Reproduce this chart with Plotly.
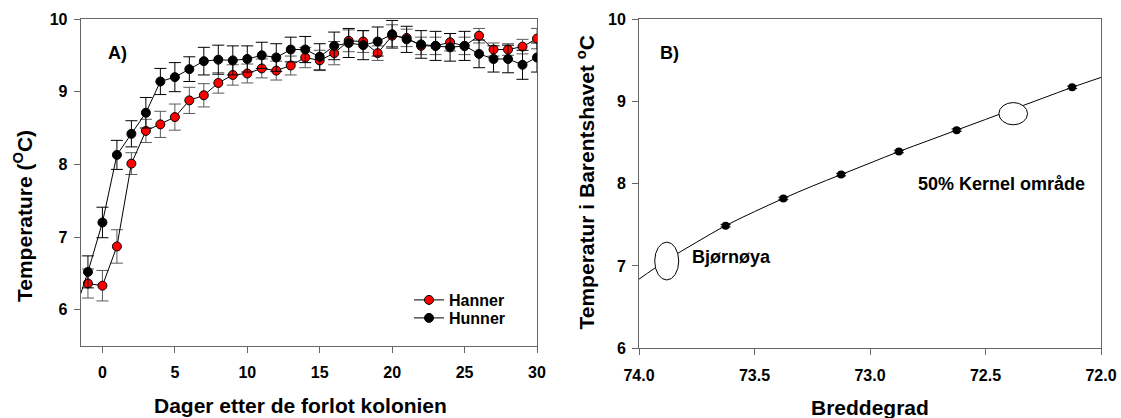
import plotly.graph_objects as go

# ---------------- Panel A data ----------------
days_hanner = list(range(-1, 31))
temp_hanner = [6.36, 6.33, 6.87, 8.01, 8.46, 8.55, 8.65, 8.88, 8.95, 9.12, 9.23, 9.25,
               9.32, 9.29, 9.36, 9.47, 9.43, 9.53, 9.70, 9.69, 9.53, 9.77, 9.74, 9.63,
               9.63, 9.68, 9.63, 9.77, 9.58, 9.58, 9.62, 9.73]
err_hanner = [0.20, 0.21, 0.23, 0.15, 0.16, 0.18, 0.18, 0.18, 0.16, 0.14, 0.14, 0.13,
              0.13, 0.13, 0.13, 0.14, 0.14, 0.16, 0.15, 0.15, 0.10, 0.15, 0.12, 0.12,
              0.12, 0.12, 0.12, 0.10, 0.09, 0.08, 0.10, 0.14]

days_hunner = list(range(-2, 31))
temp_hunner = [5.92, 6.52, 7.20, 8.13, 8.42, 8.71, 9.14, 9.20, 9.31, 9.42, 9.44, 9.43,
               9.45, 9.50, 9.47, 9.58, 9.58, 9.48, 9.63, 9.67, 9.64, 9.69, 9.79, 9.72,
               9.65, 9.63, 9.61, 9.63, 9.52, 9.45, 9.45, 9.37, 9.47]
err_hunner = [0.20, 0.22, 0.21, 0.20, 0.18, 0.21, 0.18, 0.20, 0.17, 0.19, 0.20, 0.20,
              0.18, 0.18, 0.19, 0.17, 0.18, 0.18, 0.19, 0.20, 0.20, 0.20, 0.19, 0.18,
              0.19, 0.20, 0.19, 0.20, 0.19, 0.18, 0.19, 0.20, 0.20]

# ---------------- Panel B data ----------------
lat_points = [73.625, 73.375, 73.125, 72.875, 72.625, 72.125]
temp_points = [7.49, 7.82, 8.11, 8.39, 8.65, 9.17]
err_points = [0.015, 0.015, 0.015, 0.015, 0.015, 0.015]

lat_curve = [74.0, 73.88, 73.75, 73.625, 73.5, 73.375, 73.25, 73.125, 73.0, 72.875,
             72.75, 72.625, 72.5, 72.375, 72.25, 72.125, 72.0]
temp_curve = [6.84, 7.07, 7.29, 7.49, 7.66, 7.82, 7.97, 8.11, 8.25, 8.39,
              8.52, 8.65, 8.78, 8.91, 9.04, 9.17, 9.29]

# regions (center lat, center temp, half-width lat, half-height temp)
bjornoya_region = (73.88, 7.06, 0.052, 0.23)
kernel_region = (72.38, 8.85, 0.062, 0.135)

FONT = "Liberation Sans, Arial, sans-serif"
W, H = 1121, 418

fig = go.Figure()

fig.add_trace(go.Scatter(
    x=days_hanner, y=temp_hanner, name="Hanner", mode="lines+markers",
    line=dict(color="black", width=1),
    marker=dict(color="#ff0000", size=9, line=dict(color="black", width=1)),
    error_y=dict(type="data", array=err_hanner, color="#5a5a5a", thickness=1, width=6),
    xaxis="x", yaxis="y", cliponaxis=True, legend="legend"))
fig.add_trace(go.Scatter(
    x=days_hunner, y=temp_hunner, name="Hunner", mode="lines+markers",
    line=dict(color="black", width=1),
    marker=dict(color="black", size=9, line=dict(color="black", width=1)),
    error_y=dict(type="data", array=err_hunner, color="black", thickness=1, width=6),
    xaxis="x", yaxis="y", cliponaxis=True, legend="legend2"))

fig.add_trace(go.Scatter(
    x=lat_curve, y=temp_curve, mode="lines", line=dict(color="black", width=1, shape="spline"),
    showlegend=False, xaxis="x2", yaxis="y2", hoverinfo="skip"))
fig.add_trace(go.Scatter(
    x=lat_points, y=temp_points, mode="markers",
    marker=dict(color="black", size=8),
    error_y=dict(type="data", array=err_points, color="black", thickness=1, width=5),
    showlegend=False, xaxis="x2", yaxis="y2"))

for (cx, cy, hw, hh) in (bjornoya_region, kernel_region):
    fig.add_shape(type="circle", xref="x2", yref="y2",
                  x0=cx - hw, x1=cx + hw, y0=cy - hh, y1=cy + hh,
                  line=dict(color="black", width=1), fillcolor="white", layer="above")

axis_common = dict(showgrid=False, zeroline=False, showline=True, mirror=True,
                   linecolor="#666666", linewidth=1, ticks="outside", ticklen=6,
                   tickcolor="#666666", tickwidth=1, automargin=False,
                   tickfont=dict(family=FONT, size=16, color="black", weight="bold"))

legend_common = dict(xanchor="left", yanchor="middle", bgcolor="rgba(0,0,0,0)", borderwidth=0,
                     font=dict(family=FONT, size=16, color="black", weight="bold"))

fig.update_layout(
    template="none",
    width=W, height=H, margin=dict(l=0, r=0, t=0, b=0, autoexpand=False),
    paper_bgcolor="white", plot_bgcolor="white",
    showlegend=True,
    legend=dict(x=409 / W, y=1 - 300 / H, **legend_common),
    legend2=dict(x=409 / W, y=1 - 318 / H, **legend_common),
    xaxis=dict(domain=[80.7 / W, 537 / W], range=[-1.5, 30], tickvals=[0, 5, 10, 15, 20, 25, 30],
               anchor="y", ticklabelstandoff=6, **axis_common),
    yaxis=dict(domain=[1 - 346 / H, 1 - 19 / H], range=[5.5, 10], tickvals=[6, 7, 8, 9, 10],
               anchor="x", ticklabelstandoff=3, **axis_common),
    xaxis2=dict(domain=[639 / W, 1101 / W], range=[74, 72], tickvals=[74, 73.5, 73, 72.5, 72],
                tickformat=".1f", anchor="y2", ticklabelstandoff=6, **axis_common),
    yaxis2=dict(domain=[1 - 348.3 / H, 1 - 19 / H], range=[6, 10], tickvals=[6, 7, 8, 9, 10],
                anchor="x2", ticklabelstandoff=3, **axis_common),
)

def ann(text, x, y, size, xref="paper", yref="paper", xanchor="center", angle=0):
    fig.add_annotation(text=text, x=x, y=y, xref=xref, yref=yref, showarrow=False,
                       xanchor=xanchor, yanchor="middle", textangle=angle,
                       font=dict(family=FONT, size=size, color="black", weight="bold"))

ann("A)", 117 / W, 1 - 53 / H, 18)
ann("B)", 669.5 / W, 1 - 53 / H, 18)
ann("Bjørnøya", 73.78, 7.11, 18, xref="x2", yref="y2", xanchor="left")
ann("50% Kernel område", 72.80, 7.995, 18, xref="x2", yref="y2", xanchor="left")
ann("Dager etter de forlot kolonien", 300 / W, 1 - 405 / H, 21)
ann("Breddegrad", 870 / W, 1 - 407 / H, 21)
ann("Temperature (<sup>O</sup>C)", 23 / W, 1 - 216 / H, 21, angle=-90)
ann("Temperatur i Barentshavet <sup>o</sup>C", 585 / W, 1 - 182.5 / H, 21, angle=-90)

fig.write_html("out.html")
